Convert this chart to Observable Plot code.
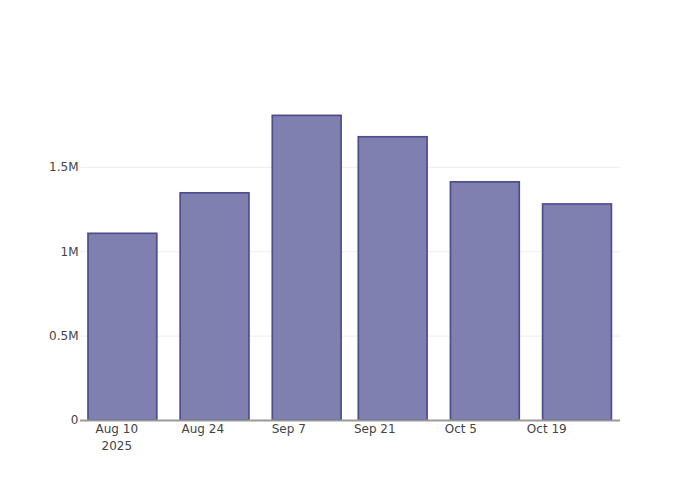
<!DOCTYPE html>
<html>
<head>
<meta charset="utf-8">
<script src="https://cdn.jsdelivr.net/npm/d3@7"></script>
<script src="https://cdn.jsdelivr.net/npm/@observablehq/plot@0.6"></script>
<style>
  html, body { margin: 0; padding: 0; background: #fff; }
  #chart { width: 700px; height: 500px; }
</style>
</head>
<body>
<div id="chart"></div>
<script>
const dates = ["2025-08-11", "2025-08-26", "2025-09-10", "2025-09-24", "2025-10-09", "2025-10-24"];
const values = [1106000, 1346000, 1805000, 1678000, 1411000, 1280000];
const xTicks = ["2025-08-10", "2025-08-24", "2025-09-07", "2025-09-21", "2025-10-05", "2025-10-19"];
const yTicks = [0, 500000, 1000000, 1500000];
const yTickLabels = ["0", "0.5M", "1M", "1.5M"];

const DAY = 864e5;
const halfWidth = 0.4 * 14 * DAY;
const data = dates.map((d, i) => {
  const t = new Date(d + "T00:00:00Z");
  return { x1: new Date(+t - halfWidth), x2: new Date(+t + halfWidth), y: values[i] };
});
const xTickDates = xTicks.map(d => new Date(d + "T00:00:00Z"));
const fmt = d3.utcFormat("%b %-d");

const chart = Plot.plot({
  width: 700,
  height: 500,
  marginTop: 100,
  marginBottom: 80,
  marginLeft: 80,
  marginRight: 80,
  style: { fontFamily: "'DejaVu Sans', sans-serif", fontSize: "12px", color: "#444", background: "#fff" },
  x: {
    type: "utc",
    domain: [new Date("2025-08-04T02:20:00Z"), new Date("2025-10-31T00:00:00Z")],
    label: null
  },
  y: {
    domain: [0, 1896000],
    label: null
  },
  marks: [
    Plot.ruleY(yTicks.slice(1), { stroke: "#eeeeee", strokeWidth: 1 }),
    Plot.rect(data, {
      x1: "x1", x2: "x2", y1: 0, y2: "y",
      fill: "#7f7fb0", stroke: "#4e4e8e", strokeWidth: 1.7
    }),
    Plot.ruleY([0], { stroke: "#999", strokeWidth: 2 }),
    Plot.axisX({
      ticks: xTickDates,
      tickSize: 0,
      tickPadding: 1,
      lineHeight: 1.4,
      tickFormat: (d, i) => i === 0 ? fmt(d) + "\n" + d.getUTCFullYear() : fmt(d),
      label: null,
      fill: "#444"
    }),
    Plot.axisY({
      ticks: yTicks,
      tickSize: 0,
      tickPadding: 2,
      tickFormat: (d, i) => yTickLabels[yTicks.indexOf(d)],
      label: null,
      fill: "#444"
    })
  ]
});
document.getElementById("chart").appendChild(chart);
</script>
</body>
</html>
